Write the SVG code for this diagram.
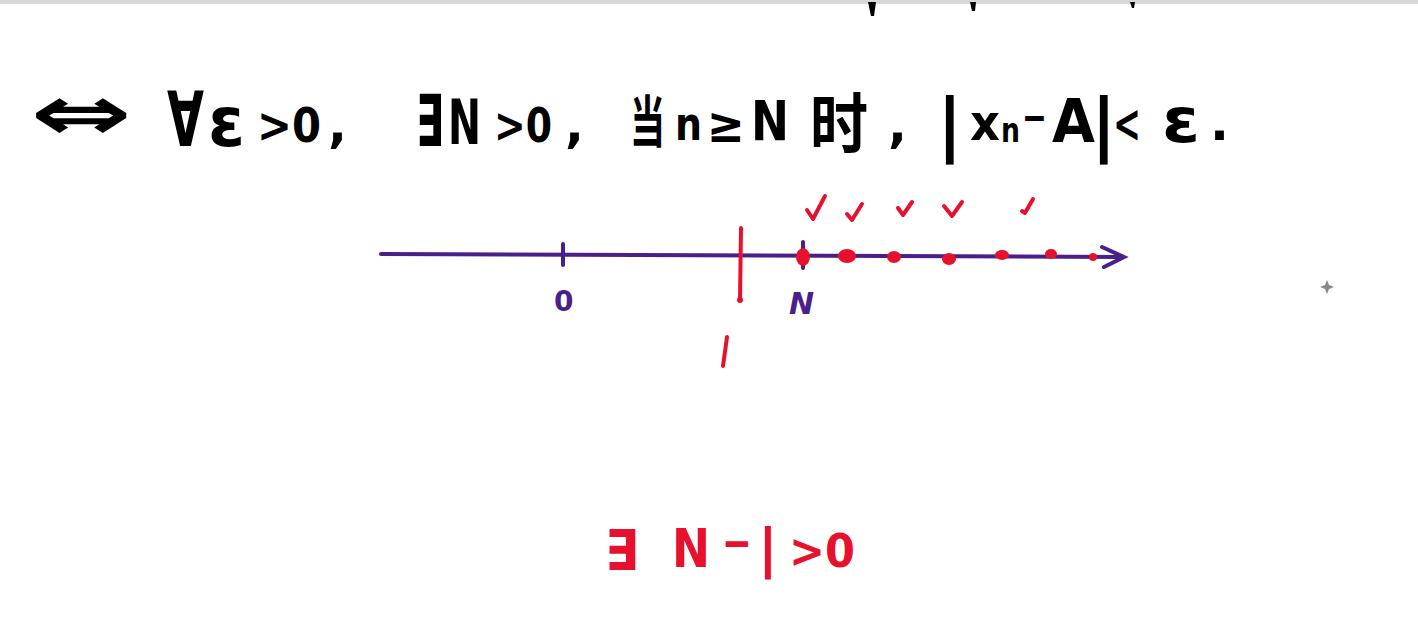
<svg xmlns="http://www.w3.org/2000/svg" width="1418" height="630" viewBox="0 0 1418 630">
<style>
.b{font-family:"DejaVu Sans","Noto Sans CJK SC",sans-serif;fill:#000;font-weight:bold}
.r{fill:#e8112d}
.p{fill:#4a1f8c}
.pl{stroke:#4a1f8c;stroke-width:4;stroke-linecap:round;fill:none}
.rl{stroke:#e8112d;stroke-width:4;stroke-linecap:round;stroke-linejoin:round;fill:none}
.hw{font-family:"DejaVu Sans","Noto Sans CJK SC",sans-serif;font-weight:bold}
</style>
<rect width="1418" height="630" fill="#fff"/>
<rect width="1418" height="4" fill="#d8d8d8"/>
<g id="top-marks" fill="#000">
<path d="M868 2 L876 2 L874 16 L871 16 Z"/>
<path d="M970 2 L976 2 L975 11 L972 11 Z"/>
<path d="M1130 2 L1135 2 L1134 8 L1132 8 Z"/>
</g>
<g id="formula">
<text class="b" x="30" y="140" font-size="78" textLength="102" lengthAdjust="spacingAndGlyphs">⇔</text>
<text class="b" y="146"><tspan x="167" font-size="76" textLength="37" lengthAdjust="spacingAndGlyphs">∀</tspan><tspan x="208" font-size="70" textLength="37" lengthAdjust="spacingAndGlyphs">ε</tspan><tspan x="257" y="142" font-size="48" textLength="64" lengthAdjust="spacingAndGlyphs">&gt;0</tspan><tspan x="328" font-size="50">,</tspan></text>
<text class="b" y="146"><tspan x="416" font-size="72" textLength="28" lengthAdjust="spacingAndGlyphs">∃</tspan><tspan x="448" y="144" font-size="62" textLength="33" lengthAdjust="spacingAndGlyphs">N</tspan><tspan x="494" y="142" font-size="48" textLength="58" lengthAdjust="spacingAndGlyphs">&gt;0</tspan><tspan x="565" font-size="50">,</tspan></text>
<text class="b" y="142"><tspan x="630" font-size="56" textLength="35" lengthAdjust="spacingAndGlyphs">当</tspan><tspan x="675" y="140" font-size="46" textLength="27" lengthAdjust="spacingAndGlyphs">n</tspan><tspan x="707" y="142" font-size="50" textLength="38" lengthAdjust="spacingAndGlyphs">≥</tspan><tspan x="751" y="140" font-size="56" textLength="38" lengthAdjust="spacingAndGlyphs">N</tspan><tspan x="810" y="148" font-size="66" textLength="58" lengthAdjust="spacingAndGlyphs">时</tspan><tspan x="888" y="142" font-size="50">,</tspan></text>
<text class="b" y="148"><tspan x="937" font-size="70">|</tspan><tspan x="970" y="140" font-size="50" textLength="30" lengthAdjust="spacingAndGlyphs">x</tspan><tspan x="1001" y="142" font-size="34" textLength="19" lengthAdjust="spacingAndGlyphs">n</tspan><tspan x="1022" y="132" font-size="44" textLength="25" lengthAdjust="spacingAndGlyphs">−</tspan><tspan x="1052" y="142" font-size="60" textLength="43" lengthAdjust="spacingAndGlyphs">A</tspan><tspan x="1091" y="148" font-size="70">|</tspan><tspan x="1113" y="142" font-size="54" textLength="28" lengthAdjust="spacingAndGlyphs">&lt;</tspan><tspan x="1162" y="142" font-size="62" textLength="38" lengthAdjust="spacingAndGlyphs">ε</tspan><tspan x="1210" y="140" font-size="50">.</tspan></text>
</g>
<g id="axis">
<line class="pl" x1="381" y1="254" x2="1122" y2="257"/>
<path class="pl" d="M1102 247 L1124 257 L1104 267"/>
<line class="pl" x1="563" y1="244" x2="563" y2="265" stroke-width="5"/>
<line class="pl" x1="803" y1="242" x2="803" y2="268"/>
<text class="hw p" x="554" y="311" font-size="28">0</text>
<text class="hw p" x="789" y="314" font-size="30" font-style="italic">N</text>
</g>
<g id="red-tick">
<line class="rl" x1="741" y1="228" x2="740" y2="300"/>
<circle class="r" cx="740" cy="300" r="3"/>
<line class="rl" x1="727" y1="337" x2="723" y2="366" stroke-width="5"/>
</g>
<g id="dots" class="r">
<ellipse cx="803" cy="257" rx="7" ry="9"/>
<ellipse cx="847" cy="256" rx="9" ry="7"/>
<ellipse cx="894" cy="257" rx="7" ry="6"/>
<ellipse cx="949" cy="259" rx="7" ry="6"/>
<ellipse cx="1002" cy="255" rx="7" ry="5"/>
<ellipse cx="1051" cy="254" rx="6" ry="5"/>
<ellipse cx="1093" cy="257" rx="4" ry="4"/>
</g>
<g id="checks">
<path class="rl" d="M807 210 L813 219 L825 196" stroke-width="5"/>
<path class="rl" d="M847 214 L852 220 L862 204" stroke-width="5"/>
<path class="rl" d="M898 208 L903 215 L912 202" stroke-width="5"/>
<path class="rl" d="M944 206 L952 216 L962 202" stroke-width="5"/>
<path class="rl" d="M1022 211 L1025 213 L1033 199" stroke-width="5"/>
</g>
<g id="bottom">
<text class="hw r" y="567"><tspan x="605" y="570" font-size="56" textLength="34" lengthAdjust="spacingAndGlyphs">∃</tspan><tspan x="672" y="567" font-size="54" textLength="38" lengthAdjust="spacingAndGlyphs">N</tspan><tspan x="722" y="560" font-size="50" textLength="30" lengthAdjust="spacingAndGlyphs">−</tspan><tspan x="758" y="567" font-size="54">|</tspan><tspan x="789" font-size="46" textLength="66" lengthAdjust="spacingAndGlyphs">&gt;0</tspan></text>
</g>
<g id="cursor" fill="#888">
<path d="M1327 280 L1329 285 L1334 287 L1329 289 L1327 294 L1325 289 L1320 287 L1325 285 Z"/>
</g>
</svg>
